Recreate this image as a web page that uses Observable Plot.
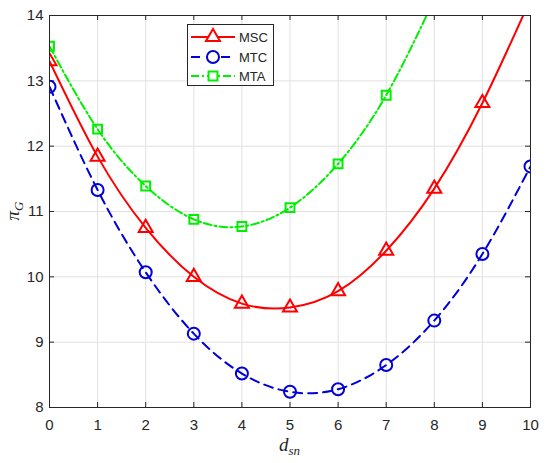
<!DOCTYPE html>
<html>
<head>
<meta charset="utf-8">
<script src="https://cdn.jsdelivr.net/npm/d3@7"></script>
<script src="https://cdn.jsdelivr.net/npm/@observablehq/plot@0.6"></script>
<style>
  body { margin: 0; background: #fff; }
  #chart { width: 550px; height: 463px; }
</style>
</head>
<body>
<div id="chart"></div>
<script>
// Data
const dsn = [0, 1, 2, 3, 4, 5, 6, 7, 8, 9, 10];
const mscValues = [13.30, 11.84, 10.75, 10.00, 9.59, 9.53, 9.78, 10.40, 11.35, 12.66, 14.25];
const mtcValues = [12.91, 11.33, 10.07, 9.13, 8.52, 8.24, 8.28, 8.65, 9.33, 10.35, 11.69];
const mtaValues = [13.53, 12.26, 11.39, 10.88, 10.77, 11.06, 11.73, 12.78, 14.25];
const xTicks = [0, 1, 2, 3, 4, 5, 6, 7, 8, 9, 10];
const yTicks = [8, 9, 10, 11, 12, 13, 14];
const seriesNames = ["MSC", "MTC", "MTA"];

const colors = {MSC: "#ff0000", MTC: "#0000d8", MTA: "#00ee00"};
const dashes = {MSC: null, MTC: "9,6", MTA: "8,3,2,3"};
const symbols = {MSC: "triangle", MTC: "circle", MTA: "square"};
const radii = {MSC: 5.2, MTC: 6.0, MTA: 5.0};

const seriesValues = {MSC: mscValues, MTC: mtcValues, MTA: mtaValues};
const rows = [];
for (const name of seriesNames) {
  seriesValues[name].forEach((v, i) => rows.push({series: name, x: dsn[i], y: v}));
}

const W = 550, H = 463;
const mL = 49, mR = 20, mT = 15, mB = 56;
const innerH = H - mT - mB;
const innerW = W - mL - mR;
const font = "'Liberation Sans', Arial, Helvetica, sans-serif";

const marks = [
  Plot.gridX(xTicks, {stroke: "#e0e0e0", strokeOpacity: 1, strokeWidth: 1}),
  Plot.gridY(yTicks, {stroke: "#e0e0e0", strokeOpacity: 1, strokeWidth: 1}),
  // inward ticks: bottom, top, left, right
  Plot.tickX(xTicks, {x: d => d, stroke: "#262626", insetTop: innerH - 5}),
  Plot.tickX(xTicks, {x: d => d, stroke: "#262626", insetBottom: innerH - 5}),
  Plot.tickY(yTicks, {y: d => d, stroke: "#262626", insetRight: innerW - 5}),
  Plot.tickY(yTicks, {y: d => d, stroke: "#262626", insetLeft: innerW - 5}),
  // tick labels
  Plot.text(xTicks, {x: d => d, text: d => String(d), frameAnchor: "bottom", dy: 18,
    fontSize: 15, fill: "#262626", textAnchor: "middle", lineAnchor: "middle"}),
  Plot.text(yTicks, {y: d => d, text: d => String(d), frameAnchor: "left", dx: -6,
    fontSize: 15, fill: "#262626", textAnchor: "end", lineAnchor: "middle"})
];
for (const name of seriesNames) {
  const data = rows.filter(r => r.series === name);
  marks.push(Plot.line(data, {
    x: "x", y: "y", curve: "natural", stroke: colors[name], strokeWidth: 2,
    strokeDasharray: dashes[name], clip: true
  }));
}
for (const name of seriesNames) {
  const data = rows.filter(r => r.series === name);
  marks.push(Plot.dot(data, {
    x: "x", y: "y", symbol: symbols[name], r: radii[name], stroke: colors[name],
    strokeWidth: 2, fill: "none", clip: true
  }));
}
marks.push(Plot.frame({stroke: "#262626", strokeWidth: 1}));

const plot = Plot.plot({
  width: W, height: H,
  marginLeft: mL, marginRight: mR, marginTop: mT, marginBottom: mB,
  style: {fontFamily: font, background: "white", overflow: "visible"},
  x: {domain: [0, 10], axis: null},
  y: {domain: [8, 14], axis: null},
  marks
});

const svg = d3.select(plot);
const serif = "'Liberation Serif', 'DejaVu Serif', serif";
// axis labels
const xl = svg.append("text")
  .attr("x", mL + innerW / 2).attr("y", 451)
  .attr("text-anchor", "middle")
  .attr("font-family", serif)
  .attr("font-style", "italic").attr("font-size", 19).attr("fill", "#262626");
xl.append("tspan").text("d");
xl.append("tspan").attr("font-size", 13).attr("dy", 4).text("sn");

const yl = svg.append("text")
  .attr("transform", `translate(19,${mT + innerH / 2}) rotate(-90)`)
  .attr("text-anchor", "middle")
  .attr("font-family", serif)
  .attr("font-style", "italic").attr("font-size", 19).attr("fill", "#262626");
yl.append("tspan").text("π");
yl.append("tspan").attr("font-size", 13).attr("dy", 4).text("G");

// legend
const lg = svg.append("g");
lg.append("rect").attr("x", 187.5).attr("y", 24.5).attr("width", 86).attr("height", 61)
  .attr("fill", "white").attr("stroke", "#262626").attr("stroke-width", 1);
const rowY = [37, 57, 76];
const sym = {triangle: d3.symbolTriangle, circle: d3.symbolCircle, square: d3.symbolSquare};
seriesNames.forEach((name, i) => {
  const y = rowY[i];
  lg.append("line").attr("x1", 191).attr("x2", 235).attr("y1", y).attr("y2", y)
    .attr("stroke", colors[name]).attr("stroke-width", 2)
    .attr("stroke-dasharray", dashes[name]);
  const area = Math.PI * radii[name] * radii[name];
  lg.append("path")
    .attr("d", d3.symbol(sym[symbols[name]], area)())
    .attr("transform", `translate(213,${y})`)
    .attr("fill", "white").attr("stroke", colors[name]).attr("stroke-width", 2);
  lg.append("text").attr("x", 239).attr("y", y).attr("dy", "0.35em")
    .attr("text-anchor", "start")
    .attr("font-family", font).attr("font-size", 13).attr("fill", "#262626").text(name);
});

document.getElementById("chart").appendChild(plot);
</script>
</body>
</html>
